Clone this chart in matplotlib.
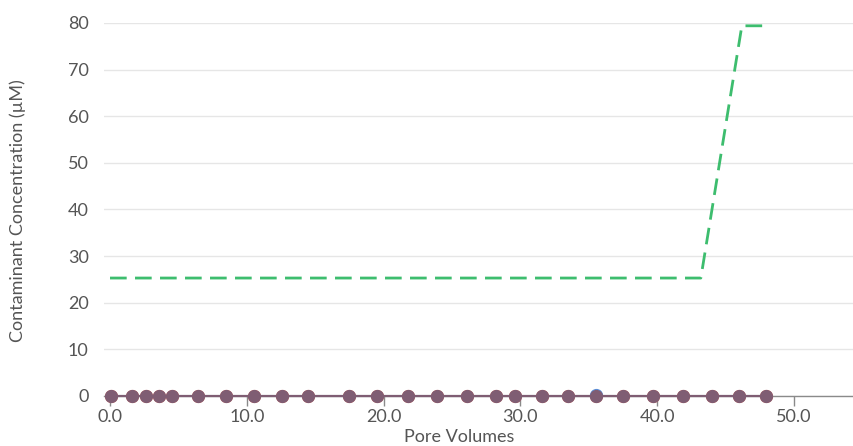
import matplotlib.pyplot as plt
import numpy as np

plt.rcParams['font.family'] = ['Lato', 'DejaVu Sans']

# pore volumes where effluent samples were taken
pore_vol = [0.05, 1.6, 2.6, 3.6, 4.5, 6.4, 8.5, 10.5, 12.6, 14.5, 17.5, 19.5,
            21.8, 23.9, 26.1, 28.2, 29.6, 31.6, 33.5, 35.5, 37.5, 39.7, 41.9,
            44.0, 46.0, 48.0]
effluent_a = [0.1] * len(pore_vol)
effluent_c = [0.0] * len(pore_vol)
blue_x = [35.5]
blue_y = [0.2]

# influent concentration
influent_x = [0.0, 43.2, 46.2, 48.0]
influent_y = [25.3, 25.3, 79.4, 79.4]

fig = plt.figure(figsize=(8.54, 4.46), dpi=100)
ax = fig.add_axes([104/854, 50/446, 750/854, 373/446])

ax.plot(influent_x, influent_y, color='#3dbd6e', lw=2.0, ls=(0, (6, 3)), zorder=3)
ax.plot(pore_vol, effluent_a, 'o', color='#e8705f', ms=8.5, clip_on=False, zorder=4)
ax.plot(blue_x, blue_y, 'o', color='#5b8fd9', ms=8.5, clip_on=False, zorder=4)
ax.plot(pore_vol, effluent_c, '-o', color='#7f5d73', ms=8.5, lw=1.6,
        clip_on=False, zorder=5)

ax.set_xlim(-0.44, 54.4)
ax.set_ylim(0, 80)
ax.set_xticks(np.arange(0, 51, 10))
ax.set_xticklabels(['0.0', '10.0', '20.0', '30.0', '40.0', '50.0'])
ax.set_yticks(np.arange(0, 81, 10))

ax.grid(axis='y', color='#e6e6e6', lw=1)
ax.set_axisbelow(True)
for s in ['top', 'right', 'left']:
    ax.spines[s].set_visible(False)
ax.spines['bottom'].set_color('#8a8a8a')
ax.spines['bottom'].set_linewidth(1.0)
ax.tick_params(axis='x', colors='#8a8a8a', length=7, width=1, labelcolor='#555555',
               labelsize=13, pad=2)
ax.tick_params(axis='y', length=0, labelcolor='#555555', labelsize=13, pad=11)

fig.text(459/854, 1 - 437/446, 'Pore Volumes', ha='center', va='center',
         color='#555555', fontsize=13)
fig.text(18/854, 1 - 211/446, 'Contaminant Concentration (µM)', ha='center',
         va='center', rotation=90, color='#555555', fontsize=13)

fig.savefig('out.png', dpi=100)
